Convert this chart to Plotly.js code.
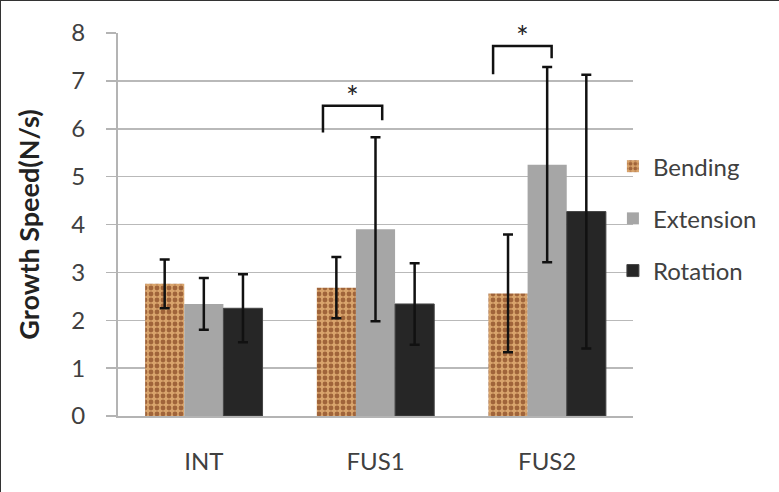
<!DOCTYPE html>
<html>
<head>
<meta charset="utf-8">
<script src="https://cdn.plot.ly/plotly-3.0.1.min.js"></script>
<style>
html,body{margin:0;padding:0;background:#fff;}
#chart{width:779px;height:492px;box-sizing:border-box;border:1px solid #333;}
</style>
</head>
<body>
<div id="chart"></div>
<script>
// ---- data ----
const categories = ["INT", "FUS1", "FUS2"];
const seriesNames = ["Bending", "Extension", "Rotation"];
const bending   = [2.76, 2.68, 2.56];
const bendingErr   = [0.51, 0.64, 1.23];
const extension = [2.34, 3.90, 5.25];
const extensionErr = [0.54, 1.92, 2.04];
const rotation  = [2.25, 2.34, 4.27];
const rotationErr  = [0.71, 0.85, 2.86];
const yTicks = [0, 1, 2, 3, 4, 5, 6, 7, 8];
// significance brackets: [left x, right x, left foot y, top y, right foot y] (category units / data units)
const sigBrackets = [
  [0.694, 1.039, 5.92, 6.48, 6.18],
  [1.685, 2.026, 7.14, 7.73, 7.47]
];
const sigLabel = "*";

const font = "Lato, 'Open Sans', 'DejaVu Sans', sans-serif";
const errStyle = (arr) => ({type: "data", array: arr, visible: true, color: "#111", thickness: 2.5, width: 5});

const traces = [
  {type: "bar", name: seriesNames[0], x: categories, y: bending, error_y: errStyle(bendingErr),
   legendgroup: "a",
   marker: {color: "#cf975e", line: {width: 0},
            pattern: {shape: ".", fgcolor: "#a0643a", bgcolor: "#d9a46c", size: 6, solidity: 0.5, fillmode: "replace"}}},
  {type: "bar", name: seriesNames[1], x: categories, y: extension, error_y: errStyle(extensionErr),
   legendgroup: "b",
   marker: {color: "#a6a6a6", line: {width: 0}}},
  {type: "bar", name: seriesNames[2], x: categories, y: rotation, error_y: errStyle(rotationErr),
   legendgroup: "c",
   marker: {color: "#262626", line: {width: 1, color: "#444"}}}
];

const shapes = sigBrackets.map(b => ({
  type: "path", xref: "x", yref: "y",
  path: `M ${b[0]},${b[2]} L ${b[0]},${b[3]} L ${b[1]},${b[3]} L ${b[1]},${b[4]}`,
  line: {color: "#111", width: 2.5}
}));
const annotations = sigBrackets.map(b => ({
  xref: "x", yref: "y", x: (b[0] + b[1]) / 2, y: b[3], text: sigLabel, showarrow: false,
  yanchor: "bottom", yshift: -10, font: {family: font, size: 30, color: "#222"}
}));

const layout = {
  width: 779, height: 492,
  margin: {l: 117, r: 147, t: 32, b: 77},
  paper_bgcolor: "#fff", plot_bgcolor: "#fff",
  barmode: "group", bargap: 0.316, bargroupgap: 0,
  font: {family: font, size: 24, color: "#404040"},
  showlegend: true,
  legend: {x: 0.961, xanchor: "left", y: 0.71, yanchor: "top", bgcolor: "rgba(0,0,0,0)",
           font: {family: font, size: 24, color: "#404040"}, tracegroupgap: 18, traceorder: "grouped"},
  xaxis: {type: "category", showgrid: false, showline: true, linecolor: "#b4b4b4", linewidth: 2,
          ticks: "", ticklabelstandoff: 23, tickfont: {family: font, size: 24, color: "#404040"},
          zeroline: false},
  yaxis: {range: [0, 8], tickvals: yTicks, ticktext: yTicks.map(String), showgrid: true, gridcolor: "#b9b9b9", gridwidth: 1.5,
          showline: true, linecolor: "#b4b4b4", linewidth: 2, ticks: "outside", ticklen: 10, tickcolor: "#b4b4b4", tickwidth: 1.5,
          ticklabelstandoff: 16, zeroline: false,
          tickfont: {family: font, size: 24, color: "#404040"},
          title: {text: "<b>Growth Speed(N/s)</b>", font: {family: font, size: 27, color: "#222"}, standoff: 24}},
  shapes: shapes,
  annotations: annotations
};

Plotly.newPlot("chart", traces, layout, {displayModeBar: false, staticPlot: true});
</script>
</body>
</html>
